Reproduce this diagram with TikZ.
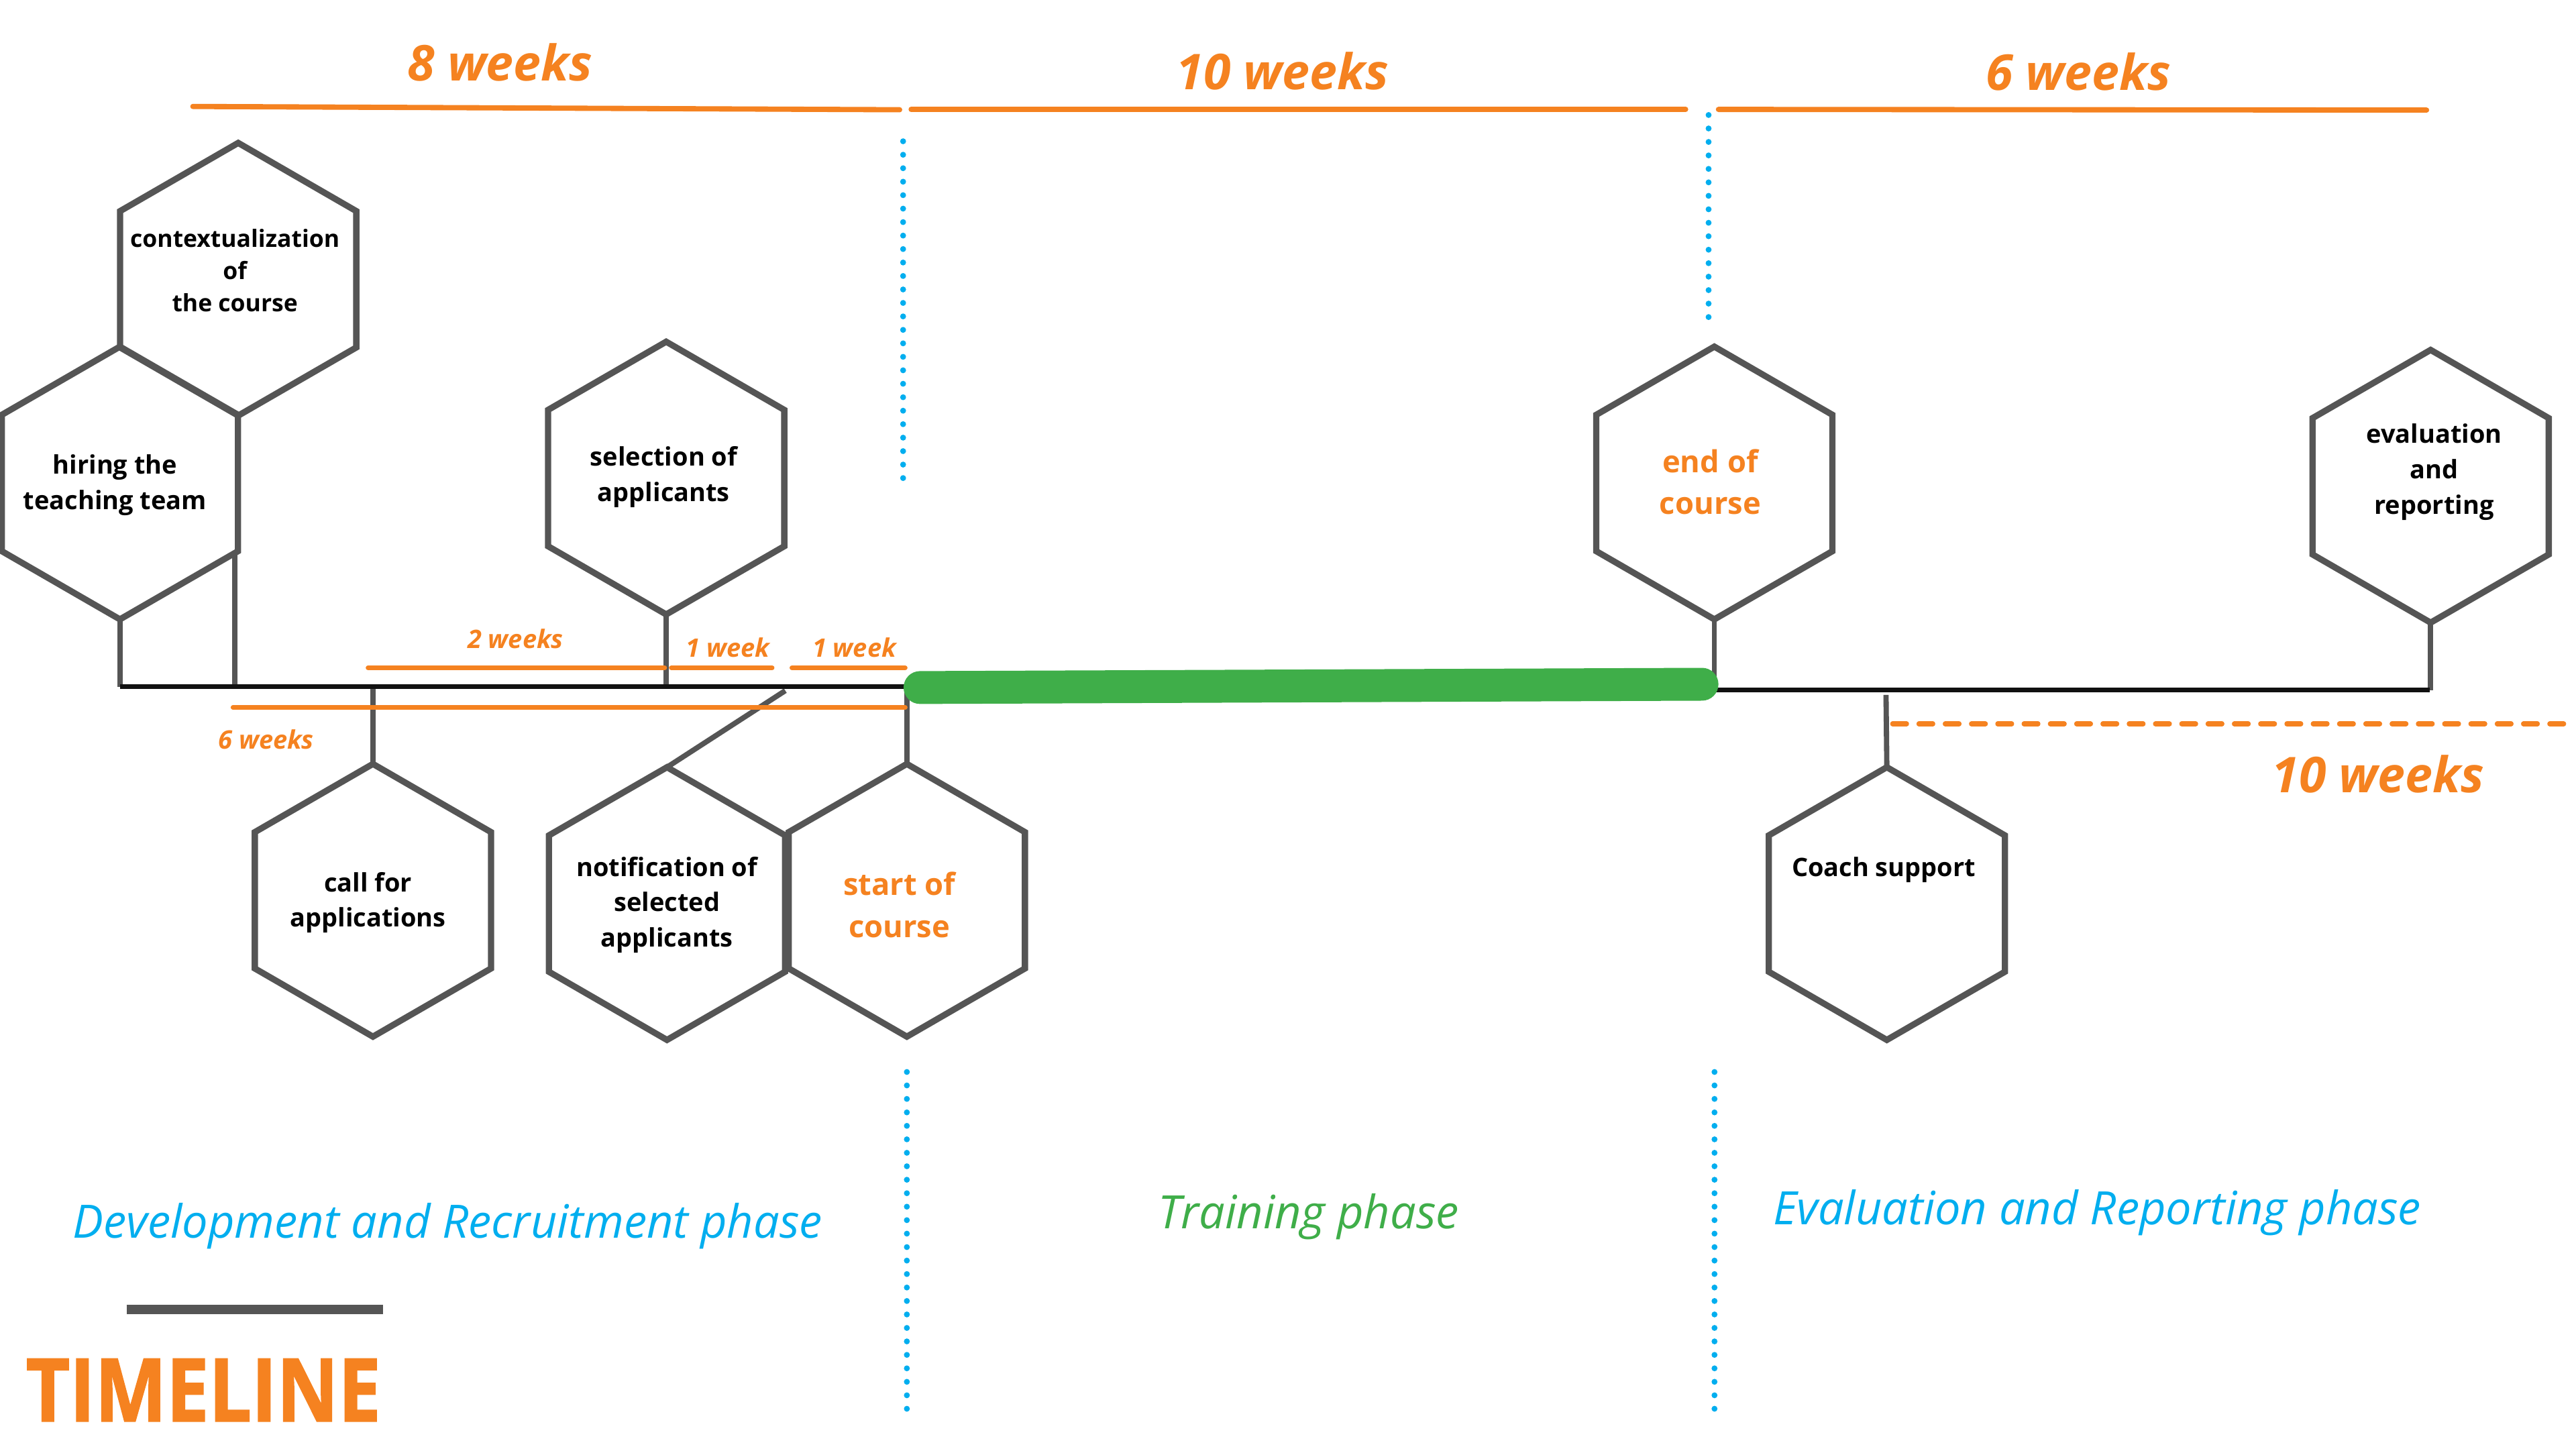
\documentclass[tikz,border=0pt]{standalone}
\usepackage{fontspec}
\usepackage{graphicx}
\setmainfont{Open Sans}
\newfontfamily\titlefont[UprightFont={* Bold}, FakeBold=1.6]{Open Sans}
\usetikzlibrary{shapes.geometric}
\definecolor{og}{HTML}{F58220}
\definecolor{hexgrey}{HTML}{555555}
\definecolor{gn}{HTML}{3FAE49}
\definecolor{bl}{HTML}{00AEEF}
\definecolor{bk}{HTML}{111111}
\begin{document}
\begin{tikzpicture}[x=1pt,y=-1pt,
  hexa/.style={regular polygon, regular polygon sides=6, shape border rotate=90,
    minimum size=166pt, inner sep=0pt, outer sep=0pt, draw=hexgrey, line width=3.8pt, line join=miter},
  hextxt/.style={font=\bfseries\fontsize{15.5}{21.4}\selectfont, align=center, inner sep=0pt, text=black},
  hexotxt/.style={font=\bfseries\fontsize{18.5}{25.6}\selectfont, align=center, inner sep=0pt, text=og},
  conn/.style={draw=hexgrey, line width=3.2pt},
  tline/.style={draw=bk, line width=3pt},
  greenbar/.style={draw=gn, line width=20pt, line cap=round},
  oline/.style={draw=og, line width=3.2pt, line cap=round},
  osmall/.style={draw=og, line width=2.8pt, line cap=round},
  odash/.style={draw=og, line width=3pt, line cap=round, dash pattern=on 8.5pt off 7.5pt},
  bigw/.style={font=\bfseries\itshape\fontsize{30}{36}\selectfont, text=og, inner sep=0pt, anchor=base},
  smallw/.style={font=\bfseries\itshape\fontsize{15.5}{18}\selectfont, text=og, inner sep=0pt, anchor=base},
  phase/.style={font=\itshape\fontsize{28}{34}\selectfont, inner sep=0pt, anchor=base},
  dotln/.style={draw=bl, line width=3.6pt, line cap=round, dash pattern=on 0pt off 8.2pt}
]
\useasboundingbox (0,0) rectangle (1568,882);
\fill[white] (0,0) rectangle (1568,882);

% hexagons
\node[hexa] (ctx) at (145,170) {};
\node[hexa] (hire) at (73,294) {};
\node[hexa] (sel) at (405.5,291) {};
\node[hexa] (call) at (227,548) {};
\node[hexa] (notif) at (406,550) {};
\node[hexa] (start) at (552,548) {};
\node[hexa] (endc) at (1043.5,294) {};
\node[hexa] (eval) at (1479.5,296) {};
\node[hexa] (coach) at (1148.5,550) {};

% hexagon texts
\node[hextxt, font=\bfseries\fontsize{14.5}{19.6}\selectfont] (ctxT) at (143,164.6) {contextualization\\of\\the course};
\node[hextxt] (hireT) at (70,295.2) {hiring the\\teaching team};
\node[hextxt] (selT) at (404,290.3) {selection of\\applicants};
\node[hextxt] (callT) at (224,549.5) {call for\\applications};
\node[hextxt] (notifT) at (406,550.7) {notification of\\selected\\applicants};
\node[hexotxt] (startT) at (547.4,550.9) {start of\\course};
\node[hexotxt] (endT) at (1041,293.4) {end of\\course};
\node[hextxt, font=\bfseries\fontsize{15.5}{21.65}\selectfont] (evalT) at (1481.6,287.3) {evaluation\\and\\reporting};
\node[hextxt, anchor=base] (coachT) at (1146.6,533.5) {Coach support};

% timeline coordinates
\coordinate (tA) at (73,418);
\coordinate (tB) at (551,418);
\coordinate (gA) at (560,418.5);
\coordinate (gB) at (1036,416.5);
\coordinate (tC) at (1043,420);
\coordinate (tD) at (1479,420);
\coordinate (nd) at (478,420.4);
\coordinate (cTop) at (1148,423);

% connectors
\draw[conn] (hire.270) -- (hire.270 |- tA);
\draw[conn] ([xshift=-2pt]hire.-30) -- ([xshift=-2pt]hire.-30 |- tA);
\draw[conn] (sel.270) -- (sel.270 |- tA);
\draw[conn] (call.90) -- (call.90 |- tA);
\draw[conn] (notif.90) -- (nd);
\draw[conn] (start.90) -- (start.90 |- tA);
\draw[conn] (endc.270) -- (endc.270 |- tC);
\draw[conn] (eval.270) -- (eval.270 |- tD);
\draw[conn] (coach.90) -- (cTop);

% timeline
\draw[tline] (tA) -- (tB);
\draw[tline] (tC) -- (tD);
\draw[greenbar] (gA) -- (gB);

% top durations
\draw[oline] (117.4,64.8) -- (547.6,66.8);
\draw[oline] (554.6,66.6) -- (1026,66.6);
\draw[oline] (1046,66.6) -- (1477,67);
\node[bigw] (w8) at (304.4,49.3) {8 weeks};
\node[bigw] (w10) at (780.6,54.7) {10 weeks};
\node[bigw] (w6) at (1265,55) {6 weeks};

% small durations
\draw[osmall] (224,406.5) -- (404.6,406.5);
\draw[osmall] (408.6,406.5) -- (470,406.5);
\draw[osmall] (482,406.5) -- (551,406.5);
\draw[osmall] (141.8,430.6) -- (551,430.6);
\node[smallw] (w2s) at (313.8,394.8) {2 weeks};
\node[smallw] (w1a) at (443,400) {1 week};
\node[smallw] (w1b) at (520,400) {1 week};
\node[smallw] (w6s) at (162,455.9) {6 weeks};

% coach duration
\draw[odash] (1152,440.6) -- (1568,440.6);
\node[bigw] (w10b) at (1447.5,482.3) {10 weeks};

% phase separators
\draw[dotln] (549.7,86) -- (549.7,291);
\draw[dotln] (1040,70) -- (1040,201);
\draw[dotln] (552,652.5) -- (552,859.5);
\draw[dotln] (1043.6,652.5) -- (1043.6,859.5);

% phase labels
\node[phase, text=bl] (ph1) at (272.5,753.6) {Development and Recruitment phase};
\node[phase, text=gn] (ph2) at (796.5,748) {Training phase};
\node[phase, text=bl] (ph3) at (1276.5,745.3) {Evaluation and Reporting phase};

% title
\draw[draw=hexgrey, line width=6pt] (77,797) -- (233,797);
\node[anchor=south west, inner sep=0pt, text=og] (title) at (15.6,865.3)
  {\resizebox{216pt}{38pt}{\titlefont TIMELINE}};
\end{tikzpicture}
\end{document}
